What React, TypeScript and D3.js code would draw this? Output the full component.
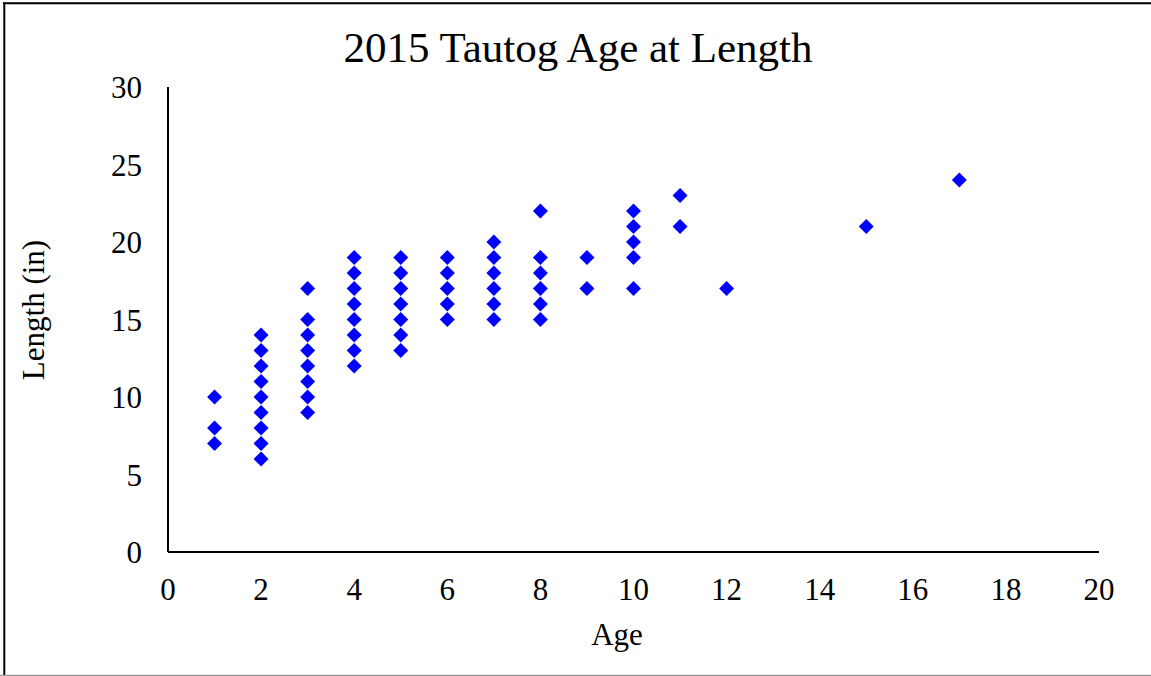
import { useEffect, useRef } from 'react';
import * as d3 from 'd3';

// ages and lengths (in)
const ages = [
  1, 1, 1,
  2, 2, 2, 2, 2, 2, 2, 2, 2,
  3, 3, 3, 3, 3, 3, 3, 3,
  4, 4, 4, 4, 4, 4, 4, 4,
  5, 5, 5, 5, 5, 5, 5,
  6, 6, 6, 6, 6,
  7, 7, 7, 7, 7, 7,
  8, 8, 8, 8, 8, 8,
  9, 9,
  10, 10, 10, 10, 10,
  11, 11,
  12,
  15,
  17
];
const lengths = [
  7, 8, 10,
  6, 7, 8, 9, 10, 11, 12, 13, 14,
  9, 10, 11, 12, 13, 14, 15, 17,
  12, 13, 14, 15, 16, 17, 18, 19,
  13, 14, 15, 16, 17, 18, 19,
  15, 16, 17, 18, 19,
  15, 16, 17, 18, 19, 20,
  15, 16, 17, 18, 19, 22,
  17, 19,
  17, 19, 20, 21, 22,
  21, 23,
  17,
  21,
  24
];
const xTicks = [0, 2, 4, 6, 8, 10, 12, 14, 16, 18, 20];
const yTicks = [0, 5, 10, 15, 20, 25, 30];

const title = '2015 Tautog Age at Length';
const xTitle = 'Age';
const yTitle = 'Length (in)';

export default function App() {
  const svgRef = useRef<SVGSVGElement>(null);

  useEffect(() => {
    document.body.style.margin = '0';
    if (!svgRef.current) return;

    const width = 1151;
    const height = 676;
    const font = '"Liberation Serif", "Times New Roman", serif';

    const svg = d3.select(svgRef.current)
      .attr('width', width)
      .attr('height', height);
    svg.selectAll('*').remove();

    svg.append('rect')
      .attr('width', width)
      .attr('height', height)
      .attr('fill', '#ffffff');

    // frame
    svg.append('line')
      .attr('x1', 3).attr('x2', width)
      .attr('y1', 3.3).attr('y2', 3.3)
      .attr('stroke', '#000').attr('stroke-width', 2);
    svg.append('line')
      .attr('x1', 4.3).attr('x2', 4.3)
      .attr('y1', 2.3).attr('y2', height)
      .attr('stroke', '#000').attr('stroke-width', 2);
    svg.append('line')
      .attr('x1', 0).attr('x2', width)
      .attr('y1', 675.5).attr('y2', 675.5)
      .attr('stroke', '#999').attr('stroke-width', 1.5);

    const x = d3.scaleLinear().domain([0, 20]).range([168, 1099]);
    const y = d3.scaleLinear().domain([0, 30]).range([552, 87]);

    // title
    svg.append('text')
      .attr('x', 578)
      .attr('y', 62)
      .attr('text-anchor', 'middle')
      .attr('font-family', font)
      .attr('font-size', '43px')
      .attr('fill', '#000')
      .text(title);

    // tick labels
    svg.append('g')
      .selectAll('text')
      .data(yTicks)
      .enter()
      .append('text')
      .attr('x', 142)
      .attr('y', d => y(d) + 11)
      .attr('text-anchor', 'end')
      .attr('font-family', font)
      .attr('font-size', '31px')
      .attr('fill', '#000')
      .text(d => d);

    svg.append('g')
      .selectAll('text')
      .data(xTicks)
      .enter()
      .append('text')
      .attr('x', d => x(d))
      .attr('y', 600)
      .attr('text-anchor', 'middle')
      .attr('font-family', font)
      .attr('font-size', '31px')
      .attr('fill', '#000')
      .text(d => d);

    // axes
    svg.append('line')
      .attr('x1', x(0)).attr('x2', x(0))
      .attr('y1', y(30)).attr('y2', y(0))
      .attr('stroke', '#000').attr('stroke-width', 2);
    svg.append('line')
      .attr('x1', x(0)).attr('x2', x(20))
      .attr('y1', y(0)).attr('y2', y(0))
      .attr('stroke', '#000').attr('stroke-width', 2);

    // axis titles
    svg.append('text')
      .attr('x', 617)
      .attr('y', 645)
      .attr('text-anchor', 'middle')
      .attr('font-family', font)
      .attr('font-size', '31px')
      .attr('fill', '#000')
      .text(xTitle);

    svg.append('text')
      .attr('transform', 'translate(44,310) rotate(-90)')
      .attr('text-anchor', 'middle')
      .attr('font-family', font)
      .attr('font-size', '31px')
      .attr('fill', '#000')
      .text(yTitle);

    // points
    const points = ages.map((a, i) => ({ age: a, len: lengths[i] }));
    const diamond = d3.symbol().type(d3.symbolSquare).size(112);

    svg.append('g')
      .selectAll('path')
      .data(points)
      .enter()
      .append('path')
      .attr('d', diamond)
      .attr('transform', d => `translate(${x(d.age)},${y(d.len)}) rotate(45)`)
      .attr('fill', '#0000ff');
  }, []);

  return <svg ref={svgRef} style={{ display: 'block' }} />;
}
